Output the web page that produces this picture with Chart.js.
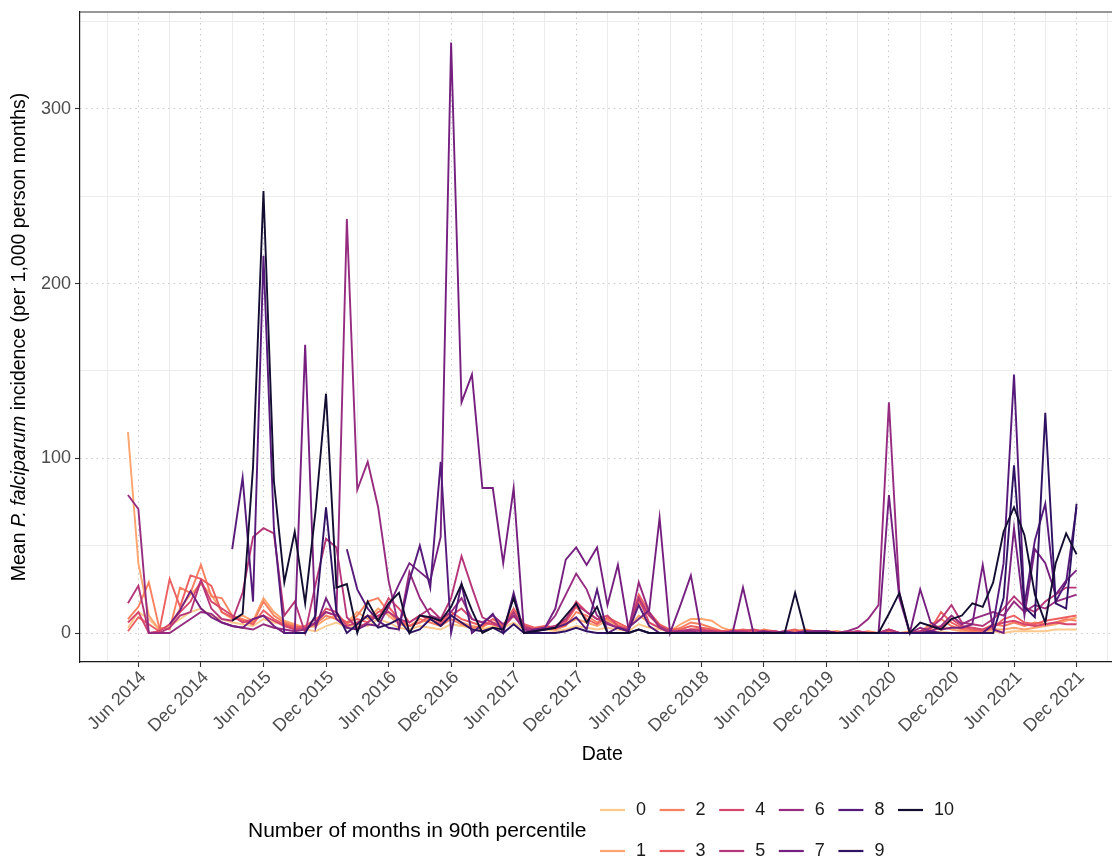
<!DOCTYPE html>
<html>
<head>
<meta charset="utf-8">
<title>P. falciparum incidence by months in 90th percentile</title>
<script src="https://cdn.jsdelivr.net/npm/chart.js@4.4.1/dist/chart.umd.min.js"></script>
<style>
  html, body { margin: 0; padding: 0; background: #fff; }
</style>
</head>
<body>
<canvas id="incidenceChart" width="1112" height="859"></canvas>
<script>
// Monthly mean incidence per group, May 2014 .. Dec 2021 (one row per calendar year).
// x positions are months counted from Jun 2014, so May 2014 = -1.
const firstMonth = -1;

const tickLabels = ['Jun 2014', 'Dec 2014', 'Jun 2015', 'Dec 2015', 'Jun 2016', 'Dec 2016',
  'Jun 2017', 'Dec 2017', 'Jun 2018', 'Dec 2018', 'Jun 2019', 'Dec 2019',
  'Jun 2020', 'Dec 2020', 'Jun 2021', 'Dec 2021'];

const levels = ['0', '1', '2', '3', '4', '5', '6', '7', '8', '9', '10'];

const colours = ['#FEC98D', '#FDA46F', '#F8805F', '#EC5F61', '#D5456C', '#B63779',
  '#962C80', '#75207F', '#561A7A', '#2F1262', '#120D31'];

const n0 = [
  3, 12, 8, 2, 4, 8, 12, 14,
  10, 8, 6, 5, 4, 8, 6, 5, 3, 2, 1, 4,
  6, 3, 5, 4, 8, 6, 3, 2, 4, 3, 2, 5,
  4, 3, 2, 4, 3, 6, 2, 1, 2, 1, 2, 4,
  3, 2, 3, 2, 1, 5, 3, 2, 1, 1, 2, 3,
  2, 1, 1, 1, 0, 1, 1, 0, 1, 0, 1, 1,
  1, 0, 0, 0, 0, 1, 0, 0, 0, 0, 1, 0,
  0, 0, 0, 1, 0, 1, 1, 1, 1, 2, 2, 2
];
const n1 = [
  115, 40, 10, 2, 3, 14, 22, 28,
  22, 12, 8, 10, 7, 20, 12, 7, 5, 3, 4, 8,
  10, 6, 12, 8, 14, 10, 5, 4, 6, 8, 5, 10,
  6, 4, 3, 8, 5, 12, 3, 2, 4, 3, 5, 8,
  6, 4, 7, 5, 3, 10, 6, 3, 1, 5, 8, 8,
  7, 3, 1, 1, 0, 1, 0, 1, 0, 1, 1, 0,
  0, 0, 1, 0, 0, 1, 0, 1, 0, 3, 4, 2,
  1, 1, 1, 2, 2, 3, 2, 3, 4, 5, 7, 9
];
const n2 = [
  8, 15, 29, 3, 2, 26, 23, 39,
  21, 20, 10, 8, 6, 18, 10, 6, 4, 3, 5, 10,
  8, 5, 10, 18, 20, 12, 6, 4, 8, 6, 4, 8,
  5, 3, 4, 6, 4, 10, 3, 2, 3, 2, 4, 12,
  10, 6, 8, 4, 2, 18, 10, 4, 1, 3, 6, 5,
  3, 1, 2, 1, 0, 2, 1, 0, 1, 2, 1, 0,
  1, 0, 0, 1, 0, 2, 0, 0, 1, 5, 8, 4,
  2, 1, 2, 5, 4, 6, 4, 6, 5, 6, 8, 7
];
const n3 = [
  1, 9, 5, 1, 31, 15, 33, 31,
  27, 12, 9, 7, 5, 13, 8, 5, 3, 4, 8, 12,
  10, 6, 8, 6, 12, 15, 8, 4, 6, 10, 6, 12,
  8, 6, 4, 8, 4, 14, 5, 3, 4, 3, 6, 15,
  8, 5, 9, 6, 3, 22, 12, 5, 2, 2, 4, 3,
  2, 1, 1, 2, 1, 1, 0, 1, 2, 0, 1, 1,
  0, 1, 0, 0, 0, 1, 0, 0, 0, 2, 12, 6,
  3, 2, 1, 3, 8, 10, 6, 5, 7, 8, 9, 10
];
const n4 = [
  6, 12, 0, 1, 5, 12, 18, 30,
  18, 14, 10, 6, 8, 10, 7, 4, 2, 3, 6, 14,
  12, 4, 6, 10, 8, 20, 14, 6, 10, 8, 5, 10,
  14, 8, 6, 5, 3, 10, 4, 2, 3, 4, 7, 18,
  12, 8, 10, 4, 2, 20, 6, 3, 1, 1, 2, 2,
  1, 1, 0, 1, 2, 1, 1, 0, 0, 1, 0, 1,
  0, 0, 1, 0, 0, 2, 0, 0, 0, 1, 3, 8,
  4, 3, 2, 4, 6, 7, 5, 4, 5, 6, 5, 5
];
const n5 = [
  17, 27, 0, 0, 3, 10, 12, 30,
  14, 8, 7, 23, 55, 60, 57, 10, 18, 0, 28, 54,
  49, 9, 3, 6, 10, 12, 8, 6, 10, 14, 8, 20,
  44, 26, 9, 6, 3, 12, 3, 2, 2, 4, 8, 16,
  12, 8, 6, 3, 2, 20, 10, 4, 1, 1, 2, 1,
  1, 0, 1, 1, 0, 0, 1, 0, 0, 1, 0, 1,
  0, 0, 1, 0, 0, 2, 0, 0, 1, 3, 8, 16,
  6, 5, 4, 8, 14, 21, 15, 12, 18, 22, 26, 26
];
const n6 = [
  79, 71, 0, 0, 0, 4, 8, 12,
  11, 6, 4, 3, 2, 5, 3, 2, 1, 2, 6, 12,
  10, 237, 82, 98, 72, 30, 3, 35, 20, 10, 8, 12,
  20, 8, 6, 10, 5, 10, 2, 1, 3, 10, 22, 34,
  25, 10, 5, 3, 1, 29, 12, 3, 0, 1, 1, 0,
  0, 0, 1, 0, 0, 0, 0, 0, 0, 0, 1, 1,
  0, 1, 3, 8, 16, 132, 23, 0, 3, 1, 4, 10,
  5, 8, 10, 12, 10, 18, 12, 16, 14, 18, 20, 22
];
const n7 = [
  null, null, null, null, 5, 13, 24, 14,
  9, 6, 4, 3, 8, 10, 4, 0, 0, 165, 3, 20,
  8, 3, 2, 5, 4, 15, 28, 40, 35, 30, 55, 338,
  132, 148, 83, 83, 40, 83, 0, 2, 3, 14, 42, 49,
  39, 49, 16, 39, 3, 8, 13, 66, 0, 16, 33, 0,
  0, 0, 0, 26, 0, 1, 0, 1, 0, 1, 1, 1,
  0, 0, 0, 0, 0, 79, 20, 0, 25, 6, 2, 3,
  3, 5, 39, 2, 0, 60, 10, 48, 40, 22, 30, 36
];
const n8 = [
  null, null, null, null, null, null, null, null,
  null, null, 48, 89, 18, 216, 60, 0, 0, null, null, null,
  null, 48, 25, 14, 7, 3, 2, 30, 50, 26, 98, 0,
  28, 0, 5, 11, 0, 23, 0, 1, 2, 3, 5, 9,
  2, 25, 0, 3, 1, 16, 4, 0, 0, 0, 0, 0,
  0, 0, 0, 0, 0, 0, 0, 0, 0, 0, 0, 0,
  0, 0, 0, 0, 0, 0, 0, 0, 0, 1, 0, 0,
  0, 0, 0, 5, 40, 148, 16, 53, 74, 18, 29, 72
];
const n9 = [
  null, null, null, null, null, null, null, null,
  null, null, null, null, null, null, null, null, 0, 0, 10, 72,
  12, 0, 5, 10, 3, 5, 8, 0, 2, 8, 4, 10,
  6, 2, 1, 3, 0, 5, 0, 0, 0, 0, 1, 3,
  1, 0, 0, 0, 0, 2, 0, 0, 0, 0, 0, 0,
  0, 0, 0, 0, 0, 0, 0, 0, 0, 0, 0, 0,
  0, 0, 0, 0, 0, 0, 0, 0, 0, 0, 0, 0,
  0, 0, 0, 0, 20, 96, 15, 9, 126, 17, 14, 74
];
const n10 = [
  null, null, null, null, null, null, null, null,
  null, null, 7, 11, 95, 253, 87, 29, 58, 17, 70, 137,
  26, 28, 0, 18, 7, 17, 23, 0, 10, 9, 7, 15,
  28, 13, 0, 3, 2, 20, 0, 1, 2, 3, 10, 17,
  6, 15, 0, 0, 0, 2, 0, 0, 0, 0, 0, 0,
  0, 0, 0, 0, 0, 0, 0, 0, 23, 0, 0, 0,
  0, 0, 0, 0, 0, 11, 23, 0, 6, 4, 2, 8,
  10, 17, 15, 29, 58, 72, 56, 22, 6, 40, 57, 45
];

const seriesValues = [n0, n1, n2, n3, n4, n5, n6, n7, n8, n9, n10];

const FONT = '"Liberation Sans", Arial, Helvetica, sans-serif';

function toPoints(values) {
  return values.map((v, k) => ({ x: k + firstMonth, y: v }));
}

const datasets = seriesValues.map((values, i) => ({
  label: levels[i],
  data: toPoints(values),
  borderColor: colours[i],
  backgroundColor: colours[i],
  borderWidth: 1.9,
  pointRadius: 0,
  tension: 0,
  spanGaps: false,
  order: levels.length - 1 - i   // highest level drawn on top
}));

// axis titles, panel top edge and the two-row legend
const decorations = {
  id: 'decorations',
  afterDraw(chart) {
    const { ctx, chartArea: a } = chart;
    const x = chart.scales.x;
    ctx.save();

    ctx.strokeStyle = '#333';
    ctx.lineWidth = 1.2;
    ctx.beginPath();
    ctx.moveTo(a.left, a.top);
    ctx.lineTo(a.right, a.top);
    ctx.stroke();

    ctx.fillStyle = '#000';
    ctx.font = '19.5px ' + FONT;
    ctx.textAlign = 'center';
    ctx.textBaseline = 'middle';
    ctx.fillText('Date', x.getPixelForValue(44.5), 755);

    // y title with the species name in italics
    const parts = [['Mean ', false], ['P. falciparum', true], [' incidence (per 1,000 person months)', false]];
    ctx.save();
    ctx.translate(20, (a.top + a.bottom) / 2);
    ctx.rotate(-Math.PI / 2);
    ctx.textAlign = 'left';
    let total = 0;
    const widths = parts.map(([t, it]) => {
      ctx.font = (it ? 'italic ' : '') + '19.5px ' + FONT;
      const w = ctx.measureText(t).width;
      total += w;
      return w;
    });
    let pos = -total / 2;
    parts.forEach(([t, it], k) => {
      ctx.font = (it ? 'italic ' : '') + '19.5px ' + FONT;
      ctx.fillText(t, pos, 0);
      pos += widths[k];
    });
    ctx.restore();

    // legend
    ctx.textAlign = 'left';
    ctx.font = '21px ' + FONT;
    ctx.fillStyle = '#000';
    ctx.fillText('Number of months in 90th percentile', 248, 831);
    ctx.font = '18px ' + FONT;
    chart.data.datasets.forEach((ds, i) => {
      const col = Math.floor(i / 2);
      const row = i % 2;
      const kx = 600 + col * 59.6;
      const ky = 810 + row * 41;
      ctx.strokeStyle = ds.borderColor;
      ctx.lineWidth = 2.2;
      ctx.beginPath();
      ctx.moveTo(kx, ky);
      ctx.lineTo(kx + 25, ky);
      ctx.stroke();
      ctx.fillStyle = '#1a1a1a';
      ctx.fillText(ds.label, kx + 36, ky);
    });
    ctx.restore();
  }
};

const isMajorX = c => c.tick && c.tick.value % 6 === 0;
const isMajorY = c => c.tick && c.tick.value % 100 === 0;

new Chart(document.getElementById('incidenceChart'), {
  type: 'line',
  data: { datasets },
  options: {
    responsive: false,
    animation: false,
    layout: { padding: { top: 12, left: 0, right: 0, bottom: 0 } },
    plugins: {
      legend: { display: false },
      tooltip: { enabled: false }
    },
    scales: {
      x: {
        type: 'linear',
        min: -5.6,
        max: 93.4,
        afterBuildTicks(scale) {
          const t = [];
          for (let v = -3; v <= 93; v += 3) t.push({ value: v });
          scale.ticks = t;
        },
        afterFit(scale) {
          scale.height = 197;
          scale.paddingLeft = 0;
          scale.paddingRight = 0;
        },
        ticks: {
          autoSkip: false,
          minRotation: 45,
          maxRotation: 45,
          padding: 0,
          labelOffset: 5,
          color: '#4d4d4d',
          font: { family: FONT, size: 18 },
          callback: v => (v % 6 === 0 ? tickLabels[v / 6] : '')
        },
        grid: {
          color: c => (isMajorX(c) ? '#c9c9c9' : '#ececec'),
          lineWidth: 1,
          tickLength: 5,
          tickWidth: 1.1,
          tickColor: c => (isMajorX(c) ? '#333' : 'rgba(0,0,0,0)')
        },
        border: {
          color: '#1a1a1a',
          width: 1.2,
          dash: c => (isMajorX(c) ? [1.5, 4] : [])
        }
      },
      y: {
        min: -16.6,
        max: 355.5,
        afterBuildTicks(scale) {
          scale.ticks = [0, 50, 100, 150, 200, 250, 300, 350].map(v => ({ value: v }));
        },
        afterFit(scale) {
          scale.width = 80;
          scale.paddingTop = 0;
          scale.paddingBottom = 0;
        },
        ticks: {
          padding: 4,
          color: '#4d4d4d',
          font: { family: FONT, size: 18 },
          callback: v => (v % 100 === 0 ? String(v) : '')
        },
        grid: {
          color: c => (isMajorY(c) ? '#c9c9c9' : '#ececec'),
          lineWidth: 1,
          tickLength: 5,
          tickWidth: 1.1,
          tickColor: c => (isMajorY(c) ? '#333' : 'rgba(0,0,0,0)')
        },
        border: {
          color: '#1a1a1a',
          width: 1.2,
          dash: c => (isMajorY(c) ? [1.5, 4] : [])
        }
      }
    }
  },
  plugins: [decorations]
});
</script>
</body>
</html>
